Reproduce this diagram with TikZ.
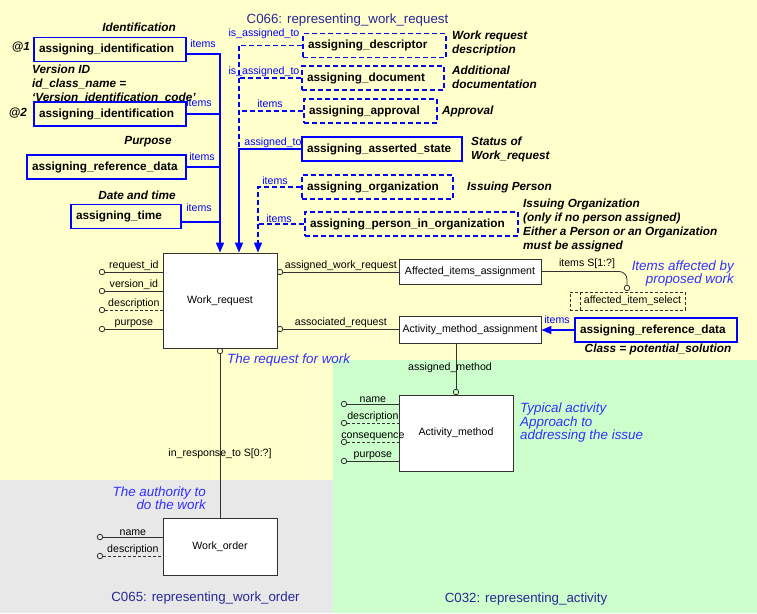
\documentclass[tikz,border=0pt]{standalone}
\usepackage{fontspec}
\setmainfont{Liberation Sans}
\usetikzlibrary{arrows.meta,calc}
\hyphenpenalty=10000
\definecolor{bg_yellow}{RGB}{255,255,204}
\definecolor{bg_green}{RGB}{204,255,204}
\definecolor{bg_grey}{RGB}{232,232,232}
\definecolor{note_blue}{RGB}{48,48,255}
\definecolor{title_blue}{RGB}{40,40,150}
\definecolor{ln_grey}{RGB}{50,50,50}
\tikzstyle{bb}=[rectangle,draw=blue,line width=1.6pt,inner xsep=5pt,inner ysep=0pt,
  minimum height=24pt,align=left,font=\fontsize{11.8}{13}\selectfont\bfseries]
\tikzstyle{db}=[bb,dash pattern=on 5pt off 3pt]
\tikzstyle{ent}=[rectangle,draw=ln_grey,fill=white,line width=0.8pt,
  font=\fontsize{10.6}{12}\selectfont]
\tikzstyle{lbl}=[font=\fontsize{10.6}{12}\selectfont,inner sep=1pt]
\tikzstyle{blbl}=[lbl,text=blue]
\tikzstyle{cmt}=[font=\fontsize{11.8}{14}\selectfont\bfseries\itshape,align=left,inner sep=0pt]
\tikzstyle{bnote}=[font=\fontsize{13.4}{13.5}\selectfont\itshape,text=note_blue,inner sep=0pt]
\tikzstyle{ttl}=[font=\fontsize{13.3}{15}\selectfont,text=title_blue,inner sep=0pt]
\tikzstyle{oc}=[circle,draw=ln_grey,line width=0.8pt,inner sep=0pt,minimum size=5.5pt]
\tikzstyle{bl}=[draw=blue,line width=1.6pt]
\tikzstyle{bd}=[bl,dash pattern=on 5pt off 3pt]
\tikzstyle{el}=[draw=ln_grey,line width=0.8pt]
\tikzstyle{ed}=[el,dash pattern=on 3pt off 2pt]
\tikzstyle{arr}=[-{Triangle[width=8pt,length=10pt]}]

\begin{document}
\begin{tikzpicture}[x=1pt,y=-1pt]
        \useasboundingbox (0,0) rectangle (757,613);
        % schema areas
        \fill[bg_yellow] (0,0) rectangle (757,613);
        \fill[bg_grey] (0,480) rectangle (333,613);
        \fill[bg_green] (333,360) rectangle (757,613);
        \node[style=ttl] (t66) at (347.5,20) {C066: representing\_work\_request};
        \node[style=ttl] (t65) at (205.5,598) {C065: representing\_work\_order};
        \node[style=ttl] (t32) at (526,599) {C032: representing\_activity};

        % assignments on the left
        \node[style=bb,text width=142pt] (ai1) at (110,49.5) {assigning\_identification};
        \node[style=bb,text width=142pt] (ai2) at (110,114) {assigning\_identification};
        \node[style=bb,text width=149pt] (ard1) at (106.5,167) {assigning\_reference\_data};
        \node[style=bb,text width=100pt] (atm) at (126,216.5) {assigning\_time};
        \node[style=cmt] (n_id) at (139,27) {Identification};
        \node[style=cmt] (n_at1) at (21,47) {@1};
        \node[style=cmt] (n_at2) at (18,113) {@2};
        \node[style=cmt,anchor=west] (n_ver) at (32,84) {Version ID\\id\_class\_name =\\‘Version\_identification\_code’};
        \node[style=cmt] (n_pur) at (148,142) {Purpose};
        \node[style=cmt] (n_dt) at (137,195) {Date and time};

        % assignments in the middle
        \node[style=db,text width=133pt] (ades) at (374.5,45.5) {assigning\_descriptor};
        \node[style=db,text width=132pt] (adoc) at (373,78) {assigning\_document};
        \node[style=db,text width=123pt] (aapp) at (370.5,111) {assigning\_approval};
        \node[style=bb,text width=150pt] (ast) at (382,149) {assigning\_asserted\_state};
        \node[style=db,text width=141pt] (aorg) at (377.5,187) {assigning\_organization};
        \node[style=db,text width=203pt] (apio) at (411.5,224) {assigning\_person\_in\_organization};
        \node[style=cmt,anchor=west] (n_desc) at (452,43.5) {Work request\\description};
        \node[style=cmt,anchor=west] (n_doc) at (452,77.5) {Additional\\documentation};
        \node[style=cmt,anchor=west] (n_app) at (442,111) {Approval};
        \node[style=cmt,anchor=west] (n_st) at (471,149.5) {Status of\\Work\_request};
        \node[style=cmt,anchor=west] (n_ip) at (467,187) {Issuing Person};
        \node[style=cmt,anchor=west] (n_io) at (523,225) {Issuing Organization\\(only if no person assigned)\\Either a Person or an Organization\\must be assigned};

        % entities
        \node[style=ent,minimum width=114pt,minimum height=95pt] (wreq) at (220,300.5) {Work\_request};
        \node[style=ent,minimum width=142pt,minimum height=25pt] (aia) at (470,271.5) {Affected\_items\_assignment};
        \node[style=ent,minimum width=142pt,minimum height=27pt] (ama) at (470,329.5) {Activity\_method\_assignment};
        \node[style=ent,minimum width=114pt,minimum height=76pt] (amth) at (456,433) {Activity\_method};
        \node[style=ent,minimum width=114pt,minimum height=57pt] (wor) at (220,546.5) {Work\_order};
        \node[style=ent,dash pattern=on 3pt off 2pt,fill=none,minimum height=18pt,inner xsep=4pt,
          inner ysep=0pt,text width=107pt,align=right] (ais) at (627.5,301) {affected\_item\_select};
        \draw[style=ed] ([xshift=11pt]ais.north west) -- ([xshift=11pt]ais.south west);
        \node[style=bb,text width=152pt] (ard2) at (656,330) {assigning\_reference\_data};
        \node[style=cmt] (n_cls) at (658,349) {Class = potential\_solution};

        % circles
        \node[style=oc] (wr_c1) at (280,272) {};
        \node[style=oc] (wr_c2) at (280,329) {};
        \node[style=oc] (wr_c3) at (220,351) {};
        \node[style=oc] (am_c) at (456,392) {};
        \node[style=oc] (ais_c) at (627,288) {};
        \node[style=oc] (wr_a1) at (102,272) {};
        \node[style=oc] (wr_a2) at (102,291) {};
        \node[style=oc] (wr_a3) at (102,310) {};
        \node[style=oc] (wr_a4) at (102,329) {};
        \node[style=oc] (am_a1) at (344,404) {};
        \node[style=oc] (am_a2) at (344,423) {};
        \node[style=oc] (am_a3) at (344,442) {};
        \node[style=oc] (am_a4) at (344,461) {};
        \node[style=oc] (wo_a1) at (100,537) {};
        \node[style=oc] (wo_a2) at (100,556) {};

        % attributes
        \draw[style=el] (wr_a1) -- (wr_a1 -| wreq.west) node[midway,above,style=lbl] {request\_id};
        \draw[style=el] (wr_a2) -- (wr_a2 -| wreq.west) node[midway,above,style=lbl] {version\_id};
        \draw[style=ed] (wr_a3) -- (wr_a3 -| wreq.west) node[midway,above,style=lbl] {description};
        \draw[style=el] (wr_a4) -- (wr_a4 -| wreq.west) node[midway,above,style=lbl] {purpose};
        \draw[style=el] (am_a1) -- (am_a1 -| amth.west) node[midway,above,style=lbl] {name};
        \draw[style=ed] (am_a2) -- (am_a2 -| amth.west) node[midway,above,style=lbl] {description};
        \draw[style=ed] (am_a3) -- (am_a3 -| amth.west) node[midway,above,style=lbl] {consequence};
        \draw[style=el] (am_a4) -- (am_a4 -| amth.west) node[midway,above,style=lbl] {purpose};
        \draw[style=el] (wo_a1) -- (wo_a1 -| wor.west) node[midway,above,style=lbl] {name};
        \draw[style=ed] (wo_a2) -- (wo_a2 -| wor.west) node[midway,above,style=lbl] {description};

        % relations
        \draw[style=el] (wr_c1) -- (wr_c1 -| aia.west) node[midway,above,style=lbl] {assigned\_work\_request};
        \draw[style=el] (wr_c2) -- (wr_c2 -| ama.west) node[midway,above,style=lbl] {associated\_request};
        \draw[style=el,rounded corners=8pt] (aia.east) -| (ais_c);
        \node[style=lbl] (l_items) at (587,264) {items S[1:?]};
        \draw[style=el] (am_c |- ama.south) -- (am_c);
        \node[style=lbl] (l_meth) at (450,368) {assigned\_method};
        \draw[style=el] (wr_c3) -- (wor.north);
        \node[style=lbl] (l_resp) at (220,454) {in\_response\_to S[0:?]};

        % blue references
        \coordinate (wr_in2) at ([xshift=19pt]wreq.north);
        \coordinate (wr_in3) at ([xshift=38pt]wreq.north);
        \draw[style=bl,style=arr] ([yshift=-4.5pt]ai1.east) -| (wreq.north);
        \draw[style=bl] (ai2.east) -- (ai2.east -| wreq.north);
        \draw[style=bl] (ard1.east) -- (ard1.east -| wreq.north);
        \draw[style=bl] ([yshift=-5.5pt]atm.east) -- ([yshift=-5.5pt]atm.east -| wreq.north);
        \draw[style=bd] (ades.west) -| (ast.west -| wr_in2);
        \draw[style=bd] (adoc.west) -- (adoc.west -| wr_in2);
        \draw[style=bd] (aapp.west) -- (aapp.west -| wr_in2);
        \draw[style=bl,style=arr] (ast.west) -| (wr_in2);
        \draw[style=bd,style=arr] (aorg.west) -| (wr_in3);
        \draw[style=bd] (apio.west) -- (apio.west -| wr_in3);
        \draw[style=bl,style=arr] (ard2.west) -- (ard2.west -| ama.east);
        \node[style=blbl] (b1) at (203,44) {items};
        \node[style=blbl] (b2) at (199,103) {items};
        \node[style=blbl] (b3) at (202,157) {items};
        \node[style=blbl] (b4) at (199,208) {items};
        \node[style=blbl] (b5) at (264,34) {is\_assigned\_to};
        \node[style=blbl] (b6) at (264,72) {is\_assigned\_to};
        \node[style=blbl] (b7) at (270,104) {items};
        \node[style=blbl] (b8) at (273,143) {assigned\_to};
        \node[style=blbl] (b9) at (275,181) {items};
        \node[style=blbl] (b10) at (279,219) {items};
        \node[style=blbl] (b11) at (557,320) {items};

        % blue notes
        \node[style=bnote,anchor=east,align=right] (n_aff) at (734,273.5) {Items affected by\\proposed work};
        \node[style=bnote,anchor=west] (n_req) at (227,360) {The request for work};
        \node[style=bnote,anchor=west,align=left] (n_typ) at (520,423) {Typical activity\\Approach to\\addressing the issue};
        \node[style=bnote,anchor=east,align=right] (n_auth) at (206,498) {The authority to\\do the work};
\end{tikzpicture}
\end{document}
